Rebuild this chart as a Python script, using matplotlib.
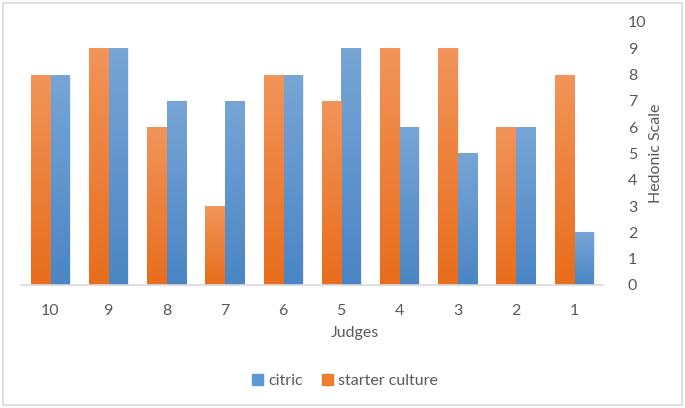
import numpy as np
import matplotlib.pyplot as plt
import matplotlib.colors as mcolors
from matplotlib.patches import Rectangle, Patch

# data
judges = ['10', '9', '8', '7', '6', '5', '4', '3', '2', '1']
starter = [8, 9, 6, 3, 8, 7, 9, 9, 6, 8]
citric = [8, 9, 7, 7, 8, 9, 6, 5, 6, 2]

plt.rcParams['font.family'] = ['Lato', 'DejaVu Sans']
grey = '#595959'

fig = plt.figure(figsize=(6.85, 4.08), dpi=100)
ax = fig.add_axes([21/685, 1 - 285/408, (603-21)/685, (285-22)/408])

x = np.arange(len(judges))
w = 0.33

def grad_bars(xs, vals, top, bottom):
    cmap = mcolors.LinearSegmentedColormap.from_list('g', [bottom, top])
    grad = np.linspace(0, 1, 64).reshape(-1, 1)
    bars = ax.bar(xs, vals, w, color='none', edgecolor='none', zorder=2)
    for b in bars:
        bx, bw, bh = b.get_x(), b.get_width(), b.get_height()
        # soft shadow
        ax.add_patch(Rectangle((bx + 0.025, 0), bw, bh, color='#000000', alpha=0.08, lw=0, zorder=1))
        im = ax.imshow(grad, cmap=cmap, extent=[bx, bx + bw, 0, bh], origin='lower',
                       aspect='auto', zorder=2)
        im.set_clip_path(b)
    return bars

grad_bars(x + w/2, citric, '#77A5D6', '#4A86C5')
grad_bars(x - w/2, starter, '#F29459', '#E86D1C')

ax.set_xlim(-0.5, 9.5)
ax.set_ylim(0, 10)
ax.set_xticks(x)
ax.set_xticklabels(judges)
ax.set_yticks(range(0, 11))
ax.yaxis.tick_right()
ax.yaxis.set_label_position('right')
ax.tick_params(axis='both', length=0, labelsize=11.5, colors=grey)
ax.tick_params(axis='x', pad=14)
ax.tick_params(axis='y', pad=18)
for s in ['top', 'left', 'right']:
    ax.spines[s].set_visible(False)
ax.spines['bottom'].set_color('#D9D9D9')
ax.spines['bottom'].set_linewidth(1.2)

ax.set_ylabel('Hedonic Scale', fontsize=11.5, color=grey, labelpad=2)
fig.text(355/685, 1 - 333/408, 'Judges', ha='center', va='center', fontsize=11.5, color=grey)

handles = [Patch(color='#5B9BD5', label='citric'), Patch(color='#ED7D31', label='starter culture')]
fig.legend(handles=handles, loc='center', bbox_to_anchor=(345/685, 1 - 381/408), ncol=2,
           frameon=False, fontsize=11.5, labelcolor=grey, handlelength=0.7, handleheight=0.7,
           handletextpad=0.3, columnspacing=1.2)

fig.add_artist(Rectangle((3/685, 3/408), 679/685, 402/408, transform=fig.transFigure,
                         fill=False, edgecolor='#D9D9D9', lw=1.2))

fig.savefig('out.png', dpi=100)
